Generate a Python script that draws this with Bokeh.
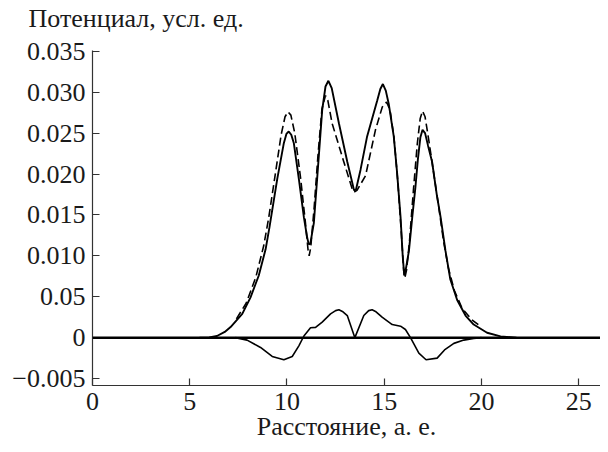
from bokeh.plotting import figure
from bokeh.models import Span, FixedTicker, Range1d, Label
from bokeh.embed import file_html
from bokeh.resources import INLINE

# ---- data ----
x_solid = [5.5, 6.0, 6.4, 6.8, 7.1, 7.7, 8.12, 8.55, 8.9, 9.1, 9.5, 9.84, 9.97, 10.09, 10.22,
           10.35, 10.61, 10.87, 11.04, 11.12, 11.2, 11.38, 11.55, 11.81, 11.98, 12.13, 12.3,
           12.67, 13.1, 13.45, 13.55, 13.78, 14.12, 14.64, 14.8, 14.93, 15.08, 15.23, 15.49,
           15.66, 15.84, 15.95, 16.03, 16.12, 16.27, 16.44, 16.6, 16.73, 16.86, 16.97, 17.1,
           17.25, 17.46, 17.7, 17.9, 18.15, 18.4, 18.75, 19.18, 19.6, 20.29, 20.98, 21.8]
y_solid = [0.0, 0.00003, 0.0002, 0.0007, 0.0013, 0.0029, 0.0049, 0.0076, 0.0108, 0.0135, 0.0194,
           0.0238, 0.0249, 0.0252, 0.0248, 0.0238, 0.0194, 0.0147, 0.0122, 0.0114, 0.0115, 0.0140,
           0.0194, 0.0278, 0.0307, 0.0314, 0.0305, 0.0262, 0.0215, 0.0180, 0.0181, 0.0205, 0.0246,
           0.0290, 0.0304, 0.0310, 0.0302, 0.0286, 0.0246, 0.0202, 0.0147, 0.0100, 0.0076, 0.0085,
           0.0106, 0.0147, 0.0183, 0.0218, 0.0245, 0.0254, 0.0250, 0.0235, 0.0215, 0.0175, 0.0147,
           0.0106, 0.0071, 0.0046, 0.0027, 0.0016, 0.0006, 0.00015, 0.0]

x_dash = [7.4, 7.9, 8.4, 8.8, 9.05, 9.4, 9.7, 9.9, 10.05, 10.2, 10.4, 10.7, 10.95, 11.08, 11.14,
          11.22, 11.4, 11.6, 11.8, 11.98, 12.1, 12.32, 12.92, 13.35, 13.45, 13.6, 14.04, 14.55,
          14.9, 15.12, 15.3, 15.5, 15.7, 15.88, 16.0, 16.06, 16.15, 16.3, 16.5, 16.7, 16.85,
          16.97, 17.1, 17.3, 17.55, 17.8, 18.05, 18.3, 18.6, 19.0, 19.5, 20.0]
y_dash = [0.0023, 0.0042, 0.0074, 0.0112, 0.0145, 0.0200, 0.0248, 0.0270, 0.0276, 0.0272, 0.0250,
          0.0195, 0.0140, 0.0108, 0.0100, 0.0110, 0.0160, 0.0225, 0.0280, 0.0296, 0.0290, 0.0262,
          0.0215, 0.0182, 0.0178, 0.0180, 0.0198, 0.0254, 0.0282, 0.0288, 0.0278, 0.0245, 0.0190,
          0.0128, 0.0082, 0.0073, 0.0083, 0.0118, 0.0180, 0.0237, 0.0268, 0.0277, 0.0270, 0.0240,
          0.0200, 0.0160, 0.0118, 0.0085, 0.0058, 0.0036, 0.0022, 0.0013]

x_diff = [7.35, 7.95, 8.64, 9.24, 9.84, 10.27, 10.61, 10.87, 11.21, 11.47, 11.81, 12.24, 12.5,
          12.67, 12.85, 13.1, 13.49, 13.95, 14.2, 14.38, 14.55, 14.89, 15.41, 15.84, 16.09,
          16.35, 16.78, 17.15, 17.72, 18.1, 18.58, 19.09, 19.6, 20.0]
y_diff = [0.0, -0.0003, -0.0012, -0.0023, -0.0027, -0.0023, -0.0010, 0.0002, 0.0012, 0.00125,
          0.0019, 0.0029, 0.0033, 0.0034, 0.0032, 0.0027, 0.0, 0.0027, 0.0033, 0.0034, 0.0032,
          0.0025, 0.0016, 0.0014, 0.0010, 0.0, -0.0019, -0.0027, -0.0025, -0.0015, -0.0007,
          -0.0003, -0.0001, 0.0]

x_ticks = [0, 5, 10, 15, 20, 25]
y_ticks = [-0.005, 0.0, 0.005, 0.010, 0.015, 0.020, 0.025, 0.030, 0.035]
y_tick_labels = ["\u22120.005", "0", "0.05", "0.010", "0.015", "0.020", "0.025", "0.030", "0.035"]

title_text = "Потенциал, усл. ед."
x_label = "Расстояние, а. е."

FONT = "Liberation Serif"
FS = "26px"
INK = "#1a1a1a"

p = figure(width=600, height=444, output_backend="svg", toolbar_location=None,
           x_range=Range1d(0, 26.12), y_range=Range1d(-0.00585, 0.0351),
           min_border_left=92, min_border_right=0, min_border_top=50, min_border_bottom=59)

p.outline_line_color = None
p.grid.visible = False
p.background_fill_color = "white"
p.border_fill_color = "white"

p.axis.axis_line_color = "#333333"
p.axis.axis_line_width = 1.2
p.axis.major_tick_line_color = "#333333"
p.axis.major_tick_line_width = 1.2
p.axis.major_tick_in = 7
p.axis.major_tick_out = 0
p.axis.minor_tick_line_color = None
p.axis.major_label_text_font = FONT
p.axis.major_label_text_font_size = FS
p.axis.major_label_text_color = INK

p.xaxis.ticker = FixedTicker(ticks=x_ticks)
p.xaxis.major_label_standoff = 7
p.xaxis.axis_label = x_label
p.xaxis.axis_label_text_font = FONT
p.xaxis.axis_label_text_font_size = FS
p.xaxis.axis_label_text_font_style = "normal"
p.xaxis.axis_label_text_color = INK
p.xaxis.axis_label_standoff = -1

p.yaxis.ticker = FixedTicker(ticks=y_ticks)
p.yaxis.major_label_overrides = {t: l for t, l in zip(y_ticks, y_tick_labels)}
p.yaxis.major_label_standoff = 7

# y-axis caption written horizontally above the axis, as in the reference
p.add_layout(Label(x=-64, y=32, x_units="screen", y_units="screen",
                   text=title_text, text_font=FONT, text_font_size=FS, text_color=INK,
                   text_baseline="alphabetic", text_align="left"), "above")

p.add_layout(Span(location=0, dimension="width", line_color="black", line_width=2.5))

p.line(x_dash, y_dash, line_color="black", line_width=1.6, line_dash="8 4")
p.line(x_solid, y_solid, line_color="black", line_width=1.9)
p.line(x_diff, y_diff, line_color="black", line_width=1.6)

open("out.html", "w").write(file_html(p, INLINE))
